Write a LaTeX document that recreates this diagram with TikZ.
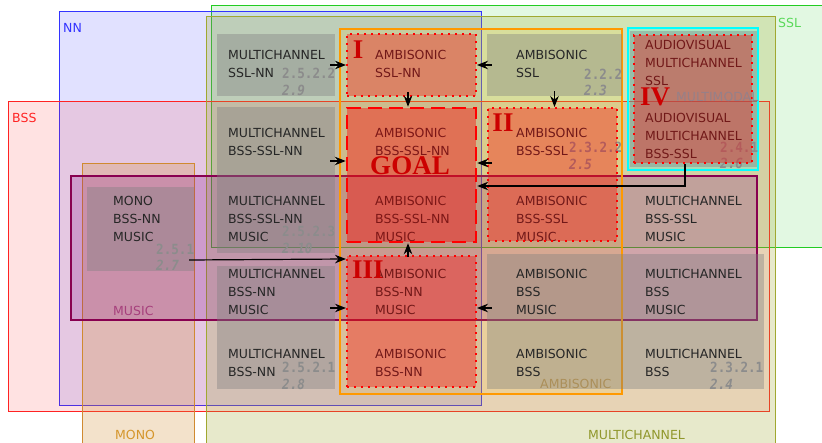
\documentclass[tikz,border=0pt]{standalone}
\usepackage{fontspec}
\setmainfont{DejaVu Sans}
\newfontfamily\numfont{DejaVu Sans Mono}[FakeStretch=0.9]
\newfontfamily\romfont{Liberation Serif}
\usepackage{tikz}
\usetikzlibrary{arrows.meta}
\definecolor{sslgreen}{HTML}{22CC22}
\definecolor{nnblue}{HTML}{3333FF}
\definecolor{bssred}{HTML}{FF2222}
\definecolor{mcolive}{HTML}{A0A830}
\definecolor{monoorange}{HTML}{D08A30}
\definecolor{musicpurple}{HTML}{800080}
\definecolor{musicdark}{HTML}{880050}
\definecolor{ambiorange}{HTML}{FF9900}
\definecolor{ambifill}{HTML}{FFBE00}
\definecolor{ambitext}{HTML}{C89A40}
\definecolor{mmcyan}{HTML}{00FFFF}
\definecolor{goalred}{HTML}{CC0000}
\definecolor{mmtext}{HTML}{968088}

\begin{document}
\begin{tikzpicture}[x=1pt, y=-1pt,
    zone/.style={line width=1pt},
    cell/.style={rectangle, fill=gray, fill opacity=0.4, inner sep=0pt},
    txt/.style={anchor=west, align=left, inner sep=0pt, text=black!85,
        font=\fontsize{12.5}{18}\selectfont},
    num/.style={anchor=west, align=left, inner sep=0pt, text=gray!90,
        font=\numfont\bfseries\fontsize{14}{16.5}\selectfont},
    zlabel/.style={anchor=west, inner sep=0pt, font=\fontsize{12.5}{15}\selectfont},
    redbox/.style={rectangle, inner sep=0pt, fill=red, fill opacity=0.35,
        draw=red, line width=2pt, dash pattern=on 2pt off 5pt},
    roman/.style={inner sep=0pt, text=goalred,
        font=\romfont\bfseries\fontsize{27}{30}\selectfont},
    pointer/.style={-{Stealth[length=11pt,width=8.5pt]}, line width=1.2pt, draw=black}
]
\useasboundingbox (0,0) rectangle (822,443);
\clip (0,0) rectangle (822,443);

\draw[zone, draw=sslgreen, fill=sslgreen, fill opacity=0.13] (211,6) rectangle (840,248);
\draw[zone, draw=nnblue, fill=nnblue, fill opacity=0.15] (59,12) rectangle (481,406);
\draw[zone, draw=bssred, fill=bssred, fill opacity=0.13] (8,102) rectangle (769,412);
\draw[zone, draw=mcolive, fill=mcolive, fill opacity=0.25] (206,17) rectangle (775,460);
\draw[zone, draw=monoorange, fill=monoorange, fill opacity=0.25] (82,164) rectangle (194,460);
\draw[zone, line width=2pt, draw=musicdark, fill=musicpurple, fill opacity=0.22] (71,176) rectangle (757,320);
\draw[zone, line width=2.5pt, draw=ambiorange, fill=ambifill, fill opacity=0.14] (340,29) rectangle (622,394);
\draw[zone, line width=2.5pt, draw=mmcyan, fill=mmcyan, fill opacity=0.2] (628,28) rectangle (758,170);

\node[zlabel, text=nnblue] (lnn) at (63,28) {NN};
\node[zlabel, text=bssred] (lbss) at (12,118) {BSS};
\node[zlabel, text=sslgreen!75!white] (lssl) at (778,23) {SSL};
\node[zlabel, text=mcolive!90!black] (lmc) at (588,435) {MULTICHANNEL};
\node[zlabel, text=monoorange!90!yellow] (lmono) at (115,435) {MONO};
\node[zlabel, text=musicdark!75!white] (lmusic) at (113,311) {MUSIC};
\node[zlabel, text=ambitext] (lambi) at (540,384) {AMBISONIC};

\node[cell, minimum width=107pt, minimum height=84pt] (mono) at (140.5,229) {};
\node[cell, minimum width=118pt, minimum height=62pt] (b1) at (276,65) {};
\node[cell, minimum width=118pt, minimum height=146pt] (b23) at (276,180) {};
\node[cell, minimum width=118pt, minimum height=123pt] (b45) at (276,327.5) {};
\node[cell, minimum width=135pt, minimum height=62pt] (d1) at (554.5,65) {};
\node[cell, minimum width=277pt, minimum height=135pt] (de45) at (625.5,321.5) {};
\node[cell, minimum width=127pt, minimum height=136pt] (e12) at (693.5,99) {};

\node[txt] (tmono) at (113,219) {MONO\\BSS-NN\\MUSIC};
\node[txt] (tb1) at (228,63.5) {MULTICHANNEL\\SSL-NN};
\node[txt] (tb2) at (228,142) {MULTICHANNEL\\BSS-SSL-NN};
\node[txt] (tb3) at (228,219) {MULTICHANNEL\\BSS-SSL-NN\\MUSIC};
\node[txt] (tb4) at (228,292) {MULTICHANNEL\\BSS-NN\\MUSIC};
\node[txt] (tb5) at (228,363) {MULTICHANNEL\\BSS-NN};
\node[txt] (tc1) at (375,63.5) {AMBISONIC\\SSL-NN};
\node[txt] (tc2) at (375,142) {AMBISONIC\\BSS-SSL-NN};
\node[txt] (tc3) at (375,219) {AMBISONIC\\BSS-SSL-NN\\MUSIC};
\node[txt] (tc4) at (375,292) {AMBISONIC\\BSS-NN\\MUSIC};
\node[txt] (tc5) at (375,363) {AMBISONIC\\BSS-NN};
\node[txt] (td1) at (516,63.5) {AMBISONIC\\SSL};
\node[txt] (td2) at (516,142) {AMBISONIC\\BSS-SSL};
\node[txt] (td3) at (516,219) {AMBISONIC\\BSS-SSL\\MUSIC};
\node[txt] (td4) at (516,292) {AMBISONIC\\BSS\\MUSIC};
\node[txt] (td5) at (516,363) {AMBISONIC\\BSS};
\node[txt] (te1) at (645,63) {AUDIOVISUAL\\MULTICHANNEL\\SSL};
\node[txt] (te2) at (645,136) {AUDIOVISUAL\\MULTICHANNEL\\BSS-SSL};
\node[txt] (te3) at (645,219) {MULTICHANNEL\\BSS-SSL\\MUSIC};
\node[txt] (te4) at (645,292) {MULTICHANNEL\\BSS\\MUSIC};
\node[txt] (te5) at (645,363) {MULTICHANNEL\\BSS};

\node[num] (n1) at (282,82) {2.5.2.2\\\textit{2.9}};
\node[num] (n2) at (282,240) {2.5.2.3\\\textit{2.10}};
\node[num] (n3) at (282,376) {2.5.2.1\\\textit{2.8}};
\node[num] (n4) at (156,257.5) {2.5.1\\\textit{2.7}};
\node[num] (n5) at (584,82.5) {2.2.2\\\textit{2.3}};
\node[num] (n6) at (569,156) {2.3.2.2\\\textit{2.5}};
\node[num] (n7) at (720,155.5) {2.4.1\\\textit{2.6}};
\node[num] (n8) at (710,376) {2.3.2.1\\\textit{2.4}};

\node[redbox, minimum width=129pt, minimum height=62pt] (regI) at (411.5,65) {};
\node[redbox, dash pattern=on 14pt off 7pt, line width=2.5pt, fill opacity=0.4,
    minimum width=129pt, minimum height=134pt] (goal) at (411.5,175) {};
\node[redbox, minimum width=129pt, minimum height=133pt] (regII) at (552.5,174.5) {};
\node[redbox, minimum width=129pt, minimum height=131pt] (regIII) at (411.5,321.5) {};
\node[redbox, minimum width=118pt, minimum height=128pt] (regIV) at (693,99) {};

\node[zlabel, text=mmtext] (lmm) at (676,97) {MULTIMODAL};
\node[roman] (rI) at (358,50) {I};
\node[roman] (rII) at (503,123) {II};
\node[roman] (rIII) at (368,270) {III};
\node[roman] (rIV) at (655,97) {IV};
\node[roman] (rgoal) at (410,166) {GOAL};

\draw[pointer] ([xshift=-5pt]b1.east) -- (regI.west);
\draw[pointer] ([xshift=5pt]d1.west) -- (regI.east);
\draw[pointer] ([xshift=-3.5pt,yshift=5pt]regI.south) -- ([xshift=-3.5pt]goal.north);
\draw[pointer] ([yshift=5pt]d1.south) -- (d1.south |- regII.north);
\draw[pointer] ([xshift=-5pt,yshift=19pt]b23.east) -- ([yshift=14pt]goal.west);
\draw[pointer] ([xshift=5pt,yshift=11.5pt]regII.west) -- ([yshift=12pt]goal.east);
\draw[pointer] ([xshift=-8pt]regIV.south) |- ([yshift=-11pt]goal.east);
\draw[pointer] ([xshift=-3.5pt,yshift=-2pt]regIII.north) -- ([xshift=-3.5pt]goal.south);
\draw[pointer] ([xshift=-5pt,yshift=-31pt]mono.east) -- ([yshift=-4pt]regIII.north west);
\draw[pointer] ([xshift=-5pt,yshift=19.5pt]b45.east) -- ([yshift=13.5pt]regIII.west);
\draw[pointer] ([xshift=5pt,yshift=13.5pt]de45.west) -- ([yshift=13.5pt]regIII.east);
\end{tikzpicture}
\end{document}
